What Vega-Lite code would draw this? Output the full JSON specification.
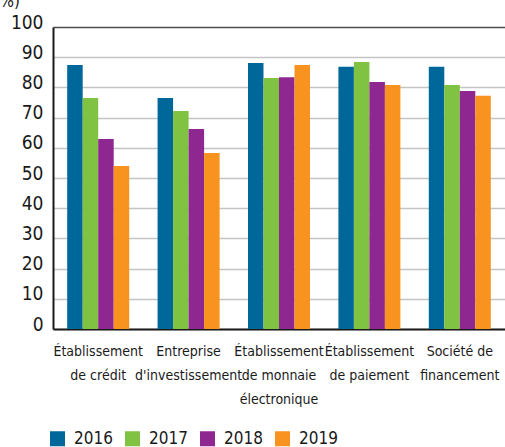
{
  "$schema": "https://vega.github.io/schema/vega-lite/v6.json",
  "width": 452,
  "height": 302,
  "autosize": {"type": "none"},
  "padding": {"left": 53, "top": 27, "right": 0, "bottom": 118},
  "background": "white",
  "config": {
    "view": {"stroke": null},
    "font": "DejaVu Sans Condensed, sans-serif"
  },
  "data": {
    "values": [
      {"cat": "Établissement|de crédit", "year": "2016", "v": 87.4},
      {"cat": "Établissement|de crédit", "year": "2017", "v": 76.5},
      {"cat": "Établissement|de crédit", "year": "2018", "v": 62.9},
      {"cat": "Établissement|de crédit", "year": "2019", "v": 54.0},
      {"cat": "Entreprise|d'investissement", "year": "2016", "v": 76.5},
      {"cat": "Entreprise|d'investissement", "year": "2017", "v": 72.2},
      {"cat": "Entreprise|d'investissement", "year": "2018", "v": 66.2},
      {"cat": "Entreprise|d'investissement", "year": "2019", "v": 58.3},
      {"cat": "Établissement|de monnaie|électronique", "year": "2016", "v": 88.1},
      {"cat": "Établissement|de monnaie|électronique", "year": "2017", "v": 83.1},
      {"cat": "Établissement|de monnaie|électronique", "year": "2018", "v": 83.4},
      {"cat": "Établissement|de monnaie|électronique", "year": "2019", "v": 87.4},
      {"cat": "Établissement|de paiement", "year": "2016", "v": 86.8},
      {"cat": "Établissement|de paiement", "year": "2017", "v": 88.4},
      {"cat": "Établissement|de paiement", "year": "2018", "v": 81.8},
      {"cat": "Établissement|de paiement", "year": "2019", "v": 80.8},
      {"cat": "Société de|financement", "year": "2016", "v": 86.8},
      {"cat": "Société de|financement", "year": "2017", "v": 80.8},
      {"cat": "Société de|financement", "year": "2018", "v": 78.8},
      {"cat": "Société de|financement", "year": "2019", "v": 77.2}
    ]
  },
  "mark": {"type": "bar"},
  "encoding": {
    "x": {
      "field": "cat",
      "type": "nominal",
      "sort": null,
      "scale": {"paddingInner": 0.314, "paddingOuter": 0.157},
      "axis": {
        "title": null,
        "labelAngle": 0,
        "labelExpr": "split(datum.label, '|')",
        "labelFontSize": 14,
        "labelColor": "#1a1a1a",
        "labelLineHeight": 24,
        "labelPadding": 15,
        "labelLimit": 0,
        "labelOverlap": false,
        "ticks": false,
        "domainColor": "#1a1a1a",
        "domainWidth": 2
      }
    },
    "xOffset": {"field": "year", "type": "nominal", "scale": {"paddingInner": 0, "paddingOuter": 0}},
    "y": {
      "field": "v",
      "type": "quantitative",
      "scale": {"domain": [0, 100], "nice": false},
      "axis": {
        "values": [0, 10, 20, 30, 40, 50, 60, 70, 80, 90, 100],
        "title": "(%)",
        "titleAngle": 0,
        "titleX": -60,
        "titleY": -21,
        "titleAlign": "left",
        "titleBaseline": "alphabetic",
        "titleFontSize": 17,
        "titleFontWeight": "normal",
        "titleColor": "#1a1a1a",
        "labelFontSize": 19,
        "labelColor": "#1a1a1a",
        "labelPadding": 10,
        "labelOffset": -5,
        "ticks": false,
        "domainColor": "#1a1a1a",
        "domainWidth": 2,
        "grid": true,
        "gridColor": {"condition": {"test": "datum.value == 100", "value": "#4d4d4d"}, "value": "#c4c4c4"},
        "gridWidth": 1.6
      }
    },
    "color": {
      "field": "year",
      "type": "nominal",
      "scale": {"range": ["#00679a", "#80c342", "#8e278f", "#f7931e"]},
      "legend": {
        "title": null,
        "orient": "none",
        "direction": "horizontal",
        "legendX": -4,
        "legendY": 403,
        "symbolType": "square",
        "symbolSize": 225,
        "symbolOpacity": 1,
        "symbolStrokeWidth": 0,
        "labelFontSize": 17,
        "labelColor": "#1a1a1a",
        "labelOffset": 8,
        "columnPadding": 11
      }
    }
  }
}
